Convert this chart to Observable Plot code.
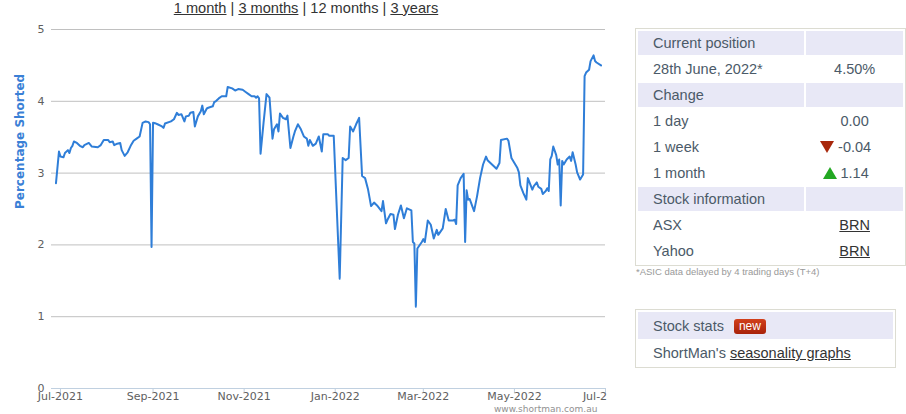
<!DOCTYPE html>
<html>
<head>
<meta charset="utf-8">
<script src="https://cdn.jsdelivr.net/npm/d3@7"></script>
<script src="https://cdn.jsdelivr.net/npm/@observablehq/plot@0.6"></script>
<style>
  html, body { margin: 0; padding: 0; background: #fff; }
  body { position: relative; width: 906px; height: 414px; overflow: hidden; font-family: "Liberation Sans", Arial, sans-serif; }
  #links { position: absolute; left: 0; top: 0; width: 612px; text-align: center; font-size: 14.6px; line-height: 16px; color: #333; }
  #links a { color: #333; text-decoration: underline; }
  #chart { position: absolute; left: 0; top: 18px; width: 607px; height: 396px; overflow: hidden; }
  #credit { position: absolute; left: 494px; top: 404px; font-family: "DejaVu Sans", sans-serif; font-size: 9px; color: #909090; white-space: nowrap; }
  table.box { position: absolute; border: 1px solid #dcdcd2; border-spacing: 2px; font-size: 14.5px; color: #4b5a68; }
  table.box td { height: 24px; padding: 0; white-space: nowrap; }
  table.box td.l { padding-left: 15px; }
  table.box td.r { text-align: center; }
  table.box tr.h td { background: #e8e8f6; }
  table.box a { color: #333; text-decoration: underline; }
  #info { left: 635px; top: 28px; }
  #info td.l { width: 156px; }
  #info td.r { width: 82px; }
  #note { position: absolute; left: 636px; top: 266px; font-size: 9.5px; line-height: 11px; color: #999; white-space: nowrap; }
  #stats { left: 635px; top: 309px; width: 261px; }
  #stats tr.h td { height: 27px; }
  .tri-dn { display: inline-block; width: 0; height: 0; border-left: 7px solid transparent; border-right: 7px solid transparent; border-top: 12px solid #a8280c; margin-right: 4px; vertical-align: -1px; }
  .tri-up { display: inline-block; width: 0; height: 0; border-left: 7px solid transparent; border-right: 7px solid transparent; border-bottom: 12px solid #23a823; margin-right: 4px; vertical-align: -1px; }
  .badge { display: inline-block; margin-left: 10px; padding: 0 5px; height: 15px; line-height: 15px; border-radius: 3px; background: linear-gradient(#d2401c, #a8220a); color: #fff; font-size: 12px; vertical-align: 1px; }
</style>
</head>
<body>
<div id="links"><a>1 month</a> | <a>3 months</a> | 12 months | <a>3 years</a></div>
<div id="chart"></div>
<div id="credit">www.shortman.com.au</div>

<table class="box" id="info">
  <tr class="h"><td class="l">Current position</td><td class="r"></td></tr>
  <tr><td class="l">28th June, 2022*</td><td class="r">4.50%</td></tr>
  <tr class="h"><td class="l">Change</td><td class="r"></td></tr>
  <tr><td class="l">1 day</td><td class="r">0.00</td></tr>
  <tr><td class="l">1 week</td><td class="r" style="padding-right:18px"><span class="tri-dn"></span>-0.04</td></tr>
  <tr><td class="l">1 month</td><td class="r" style="padding-right:18px"><span class="tri-up"></span>1.14</td></tr>
  <tr class="h"><td class="l">Stock information</td><td class="r"></td></tr>
  <tr><td class="l">ASX</td><td class="r"><a>BRN</a></td></tr>
  <tr><td class="l">Yahoo</td><td class="r"><a>BRN</a></td></tr>
</table>
<div id="note">*ASIC data delayed by 4 trading days (T+4)</div>

<table class="box" id="stats">
  <tr class="h"><td class="l">Stock stats<span class="badge">new</span></td></tr>
  <tr><td class="l">ShortMan's <a>seasonality graphs</a></td></tr>
</table>

<script>
const dates = [
"2021-06-28","2021-06-30","2021-07-01","2021-07-03","2021-07-04","2021-07-06","2021-07-07","2021-07-08","2021-07-09","2021-07-10",
"2021-07-12","2021-07-14","2021-07-16","2021-07-17","2021-07-20","2021-07-22","2021-07-26","2021-07-28","2021-07-30","2021-08-02",
"2021-08-03","2021-08-05","2021-08-06","2021-08-08","2021-08-10","2021-08-11","2021-08-13","2021-08-15","2021-08-17","2021-08-19",
"2021-08-21","2021-08-23","2021-08-25","2021-08-27","2021-08-29","2021-08-30","2021-08-31","2021-09-01","2021-09-03","2021-09-04",
"2021-09-07","2021-09-08","2021-09-09","2021-09-13","2021-09-15","2021-09-17","2021-09-18","2021-09-20","2021-09-22","2021-09-23",
"2021-09-25","2021-09-26","2021-09-28","2021-09-29","2021-10-01","2021-10-03","2021-10-04","2021-10-05","2021-10-07","2021-10-08",
"2021-10-11","2021-10-12","2021-10-13","2021-10-15","2021-10-17","2021-10-20","2021-10-21","2021-10-24","2021-10-26","2021-10-28",
"2021-10-31","2021-11-02","2021-11-04","2021-11-06","2021-11-08","2021-11-09","2021-11-10","2021-11-11","2021-11-12","2021-11-14",
"2021-11-16","2021-11-18","2021-11-20","2021-11-21","2021-11-23","2021-11-24","2021-11-25","2021-11-27","2021-11-29","2021-11-30",
"2021-12-02","2021-12-04","2021-12-05","2021-12-07","2021-12-09","2021-12-11","2021-12-13","2021-12-14","2021-12-15","2021-12-17",
"2021-12-19","2021-12-21","2021-12-23","2021-12-24","2021-12-27","2021-12-28","2021-12-31","2022-01-04","2022-01-06","2022-01-08",
"2022-01-10","2022-01-11","2022-01-13","2022-01-15","2022-01-17","2022-01-19","2022-01-21","2022-01-23","2022-01-25","2022-01-27",
"2022-01-29","2022-02-01","2022-02-02","2022-02-04","2022-02-05","2022-02-07","2022-02-09","2022-02-10","2022-02-12","2022-02-14",
"2022-02-16","2022-02-18","2022-02-21","2022-02-22","2022-02-23","2022-02-24","2022-02-25","2022-02-28","2022-03-01","2022-03-02",
"2022-03-04","2022-03-06","2022-03-08","2022-03-10","2022-03-11","2022-03-14","2022-03-16","2022-03-18","2022-03-21","2022-03-22",
"2022-03-23","2022-03-24","2022-03-26","2022-03-28","2022-03-29","2022-03-30","2022-03-31","2022-04-01","2022-04-04","2022-04-06",
"2022-04-08","2022-04-10","2022-04-12","2022-04-13","2022-04-16","2022-04-19","2022-04-21","2022-04-22","2022-04-26","2022-04-27",
"2022-04-29","2022-05-01","2022-05-03","2022-05-04","2022-05-05","2022-05-07","2022-05-09","2022-05-10","2022-05-13","2022-05-14",
"2022-05-16","2022-05-17","2022-05-19","2022-05-20","2022-05-22","2022-05-23","2022-05-24","2022-05-25","2022-05-26","2022-05-27",
"2022-05-29","2022-05-30","2022-05-31","2022-06-01","2022-06-02","2022-06-03","2022-06-05","2022-06-07","2022-06-08","2022-06-09",
"2022-06-11","2022-06-12","2022-06-14","2022-06-16","2022-06-17","2022-06-18","2022-06-20","2022-06-21","2022-06-23","2022-06-24",
"2022-06-25","2022-06-28"
];
const shorted = [
2.86,3.30,3.23,3.22,3.28,3.32,3.28,3.35,3.38,3.44,
3.42,3.38,3.36,3.39,3.42,3.37,3.36,3.39,3.46,3.46,
3.43,3.44,3.39,3.41,3.42,3.32,3.24,3.29,3.38,3.45,
3.48,3.51,3.70,3.72,3.71,3.68,1.97,3.70,3.69,3.68,
3.65,3.63,3.69,3.72,3.75,3.84,3.81,3.82,3.72,3.79,
3.80,3.84,3.85,3.65,3.79,3.86,3.94,3.82,3.90,3.91,
3.93,3.99,4.00,4.04,4.07,4.07,4.20,4.18,4.15,4.17,
4.16,4.13,4.10,4.07,4.07,4.05,4.07,4.04,3.27,3.70,
4.10,4.05,3.48,3.61,3.68,3.58,3.83,3.77,3.75,3.80,
3.35,3.51,3.58,3.68,3.61,3.51,3.48,3.38,3.46,3.38,
3.41,3.51,3.30,3.54,3.54,3.52,3.52,1.53,3.21,3.18,
3.21,3.65,3.58,3.68,3.77,2.96,2.93,2.77,2.54,2.59,
2.55,2.47,2.61,2.30,2.35,2.43,2.42,2.22,2.42,2.55,
2.37,2.51,2.48,2.04,2.02,1.14,1.95,2.04,2.08,2.04,
2.34,2.28,2.09,2.21,2.14,2.23,2.50,2.34,2.34,2.35,
2.29,2.83,2.93,2.99,2.04,2.76,2.63,2.64,2.47,2.68,
2.93,3.12,3.23,3.18,3.12,3.06,3.14,3.46,3.48,3.45,
3.21,3.14,3.07,3.01,2.83,2.72,2.63,2.93,2.77,2.82,
2.87,2.81,2.78,2.71,2.75,2.79,2.75,3.19,3.24,3.37,
3.25,3.12,3.19,2.55,3.17,3.12,3.19,3.23,3.17,3.29,
3.12,3.01,2.91,2.98,4.35,4.40,4.44,4.56,4.64,4.56,
4.54,4.50
];
const xDomain = ["2021-06-25", "2022-07-01"];
const xTicks = ["2021-07-01","2021-09-01","2021-11-01","2022-01-01","2022-03-01","2022-05-01","2022-07-01"];
const yTicks = [0, 1, 2, 3, 4, 5];
const yLabel = "Percentage Shorted";

const parse = d3.utcParse("%Y-%m-%d");
const fmt = d3.utcFormat("%b-%Y");
const data = dates.map((d, i) => ({date: parse(d), value: shorted[i]}));
const tickDates = xTicks.map(parse);

const chart = Plot.plot({
  width: 607,
  height: 396,
  marginLeft: 51,
  marginRight: 2,
  marginTop: 11,
  marginBottom: 26,
  style: {fontFamily: "DejaVu Sans, sans-serif", fontSize: "11px", color: "#606060", background: "#fff"},
  x: {type: "utc", domain: xDomain.map(parse)},
  y: {domain: [0, 5]},
  marks: [
    Plot.gridY(yTicks.filter(v => v > 0), {stroke: "#c0c0c0", strokeOpacity: 1}),
    Plot.ruleY([0], {stroke: "#c0d0e0"}),
    Plot.axisX({ticks: tickDates, tickFormat: fmt, tickSize: 5, tickPadding: -1, stroke: "#c0d0e0", fill: "#606060", label: null}),
    Plot.axisY({ticks: yTicks, tickFormat: d3.format("d"), tickSize: 0, tickPadding: 7, fill: "#606060", label: null}),
    Plot.line(data, {x: "date", y: "value", stroke: "#2f7ed8", strokeWidth: 2}),
    Plot.text([yLabel], {frameAnchor: "left", rotate: -90, dx: -31, fill: "#3a80d6", fontWeight: "bold", fontSize: 12})
  ]
});
document.getElementById("chart").appendChild(chart);
</script>
</body>
</html>
